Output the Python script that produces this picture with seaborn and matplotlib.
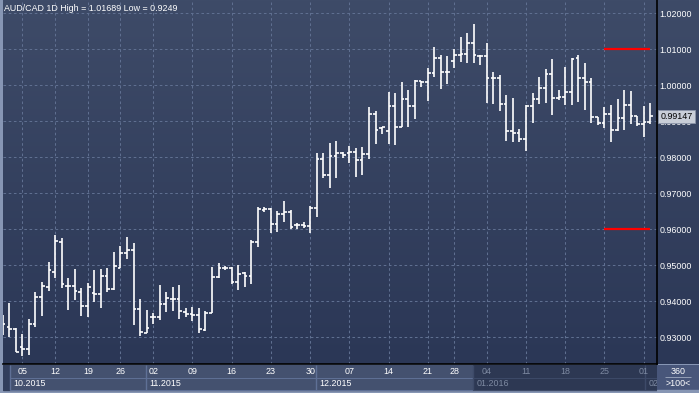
import numpy as np
import pandas as pd
import seaborn as sns
import matplotlib.pyplot as plt

# daily OHLC (bar 0 is clipped at the left edge)
bar_open = [0.93481, 0.93286, 0.93221, 0.92740, 0.92675, 0.93360, 0.94119, 0.94397, 0.94805, 0.95638,
            0.94416, 0.94416, 0.94268, 0.93869, 0.94221, 0.94194, 0.94697, 0.94342, 0.94933, 0.95333,
            0.95425, 0.93786, 0.93128, 0.93556, 0.93556, 0.93917, 0.94064, 0.94064, 0.93711, 0.93639,
            0.93619, 0.93211, 0.93667, 0.94667, 0.94933, 0.94933, 0.94544, 0.94778, 0.94703, 0.95639,
            0.96536, 0.96572, 0.96139, 0.96417, 0.96481, 0.96111, 0.96128, 0.96083, 0.96583, 0.97944,
            0.97500, 0.98036, 0.98111, 0.98111, 0.98139, 0.97925, 0.98083, 0.99194, 0.98806, 0.98739,
            0.99425, 0.98833, 0.99611, 0.99425, 1.00119, 1.00083, 1.00333, 1.00750, 1.00361, 1.00675,
            1.00842, 1.00861, 1.01167, 1.00822, 1.00814, 1.00189, 1.00194, 0.99481, 0.98731, 0.98667,
            0.98500, 0.99425, 0.99611, 0.99917, 1.00306, 0.99656, 0.99683, 0.99822, 1.00750, 1.00194,
            1.00083, 0.99111, 0.98944, 0.99194, 0.98758, 0.99083, 0.99453, 0.99147, 0.98925, 0.98972]
bar_high = [0.93619, 0.93944, 0.93249, 0.93092, 0.93499, 0.94268, 0.94527, 0.95101, 0.95842, 0.95749,
            0.94657, 0.94897, 0.94379, 0.94518, 0.94879, 0.94897, 0.94933, 0.95378, 0.95536, 0.95794,
            0.95628, 0.94064, 0.93758, 0.93683, 0.94453, 0.94267, 0.94389, 0.94453, 0.93806, 0.93850,
            0.93806, 0.93731, 0.94961, 0.95072, 0.94981, 0.94944, 0.95008, 0.94822, 0.95703, 0.96611,
            0.96628, 0.96583, 0.96508, 0.96794, 0.96536, 0.96183, 0.96194, 0.96647, 0.98111, 0.98128,
            0.98406, 0.98461, 0.98156, 0.98314, 0.98250, 0.98278, 0.99389, 0.99286, 0.98850, 0.99822,
            0.99794, 1.00092, 0.99869, 1.00147, 1.00119, 1.00472, 1.01056, 1.00842, 1.00814, 1.01000,
            1.01333, 1.01461, 1.01689, 1.00842, 1.01175, 1.00361, 1.00286, 0.99731, 0.99639, 0.98778,
            0.99453, 0.99794, 1.00222, 1.00444, 1.00722, 0.99869, 1.00500, 1.00750, 1.00842, 1.00611,
            1.00194, 0.99128, 0.99406, 0.99453, 0.99611, 0.99869, 0.99842, 0.99147, 0.99425, 0.99517]
bar_low = [0.93064, 0.93018, 0.92601, 0.92490, 0.92508, 0.93295, 0.93601, 0.94295, 0.94638, 0.94360,
           0.93758, 0.94036, 0.93601, 0.93555, 0.93971, 0.93823, 0.94267, 0.94314, 0.94917, 0.95175,
           0.93342, 0.93044, 0.93111, 0.93369, 0.93481, 0.93711, 0.93739, 0.93500, 0.93572, 0.93461,
           0.93128, 0.93183, 0.93667, 0.94639, 0.94869, 0.94481, 0.94314, 0.94389, 0.94481, 0.95500,
           0.96489, 0.95906, 0.95933, 0.96211, 0.96000, 0.96008, 0.96044, 0.95906, 0.96350, 0.97433,
           0.97156, 0.97433, 0.97972, 0.97850, 0.97444, 0.97508, 0.97961, 0.98369, 0.98647, 0.98369,
           0.98342, 0.98833, 0.98850, 0.99064, 0.99944, 0.99572, 1.00239, 0.99889, 1.00036, 1.00472,
           1.00639, 1.00628, 1.00611, 1.00564, 0.99517, 0.99481, 0.99294, 0.98461, 0.98433, 0.98433,
           0.98183, 0.98944, 0.99472, 0.99500, 0.99175, 0.99592, 0.99453, 0.99453, 0.99544, 0.99314,
           0.98961, 0.98897, 0.98806, 0.98433, 0.98739, 0.98758, 0.98925, 0.98869, 0.98572, 0.98925]
bar_close = [0.93361, 0.93221, 0.92601, 0.92675, 0.93360, 0.94119, 0.94434, 0.94860, 0.95684, 0.94481,
             0.94416, 0.94286, 0.93869, 0.94397, 0.94194, 0.94712, 0.94342, 0.94981, 0.95333, 0.95425,
             0.93786, 0.93156, 0.93258, 0.93556, 0.93917, 0.94083, 0.94064, 0.93731, 0.93639, 0.93619,
             0.93231, 0.93667, 0.94667, 0.94933, 0.94933, 0.94544, 0.94750, 0.94703, 0.95639, 0.96556,
             0.96572, 0.96139, 0.96417, 0.96481, 0.96072, 0.96128, 0.96100, 0.96583, 0.97944, 0.97500,
             0.98036, 0.98128, 0.98064, 0.98139, 0.97925, 0.98083, 0.99194, 0.98758, 0.98833, 0.99425,
             0.98833, 0.99611, 0.99425, 1.00119, 1.00083, 1.00333, 1.00750, 1.00361, 1.00361, 1.00842,
             1.00861, 1.01167, 1.00842, 1.00814, 1.00189, 1.00189, 0.99481, 0.98731, 0.98667, 0.98500,
             0.99425, 0.99611, 0.99917, 1.00306, 0.99639, 0.99683, 0.99822, 1.00731, 1.00194, 1.00083,
             0.99111, 0.98944, 0.99194, 0.98758, 0.99083, 0.99453, 0.99147, 0.98925, 0.98972, 0.99147]

day_pos = [3, 8, 13, 18, 23, 29, 35, 41, 47, 53, 59, 65, 69, 74, 80, 86, 92, 98]
day_labels = ['05', '12', '19', '26', '02', '09', '16', '23', '30',
              '07', '14', '21', '28', '04', '11', '18', '25', '01']
month_start = [1.1, 21.9, 47.9, 71.9, 98.2]
month_labels = ['10.2015', '11.2015', '12.2015', '01.2016', '02']
month_dim = [False, False, False, True, True]

y_ticks = [0.93, 0.94, 0.95, 0.96, 0.97, 0.98, 0.99, 1.00, 1.01, 1.02]
level_prices = [1.01, 0.96]
level_from, level_to = 92, 99

title = 'AUD/CAD 1D High = 1.01689 Low = 0.9249'

df = pd.DataFrame({'open': bar_open, 'high': bar_high, 'low': bar_low, 'close': bar_close})
df['x'] = np.arange(len(df))

sns.set_style('dark')
plt.rcParams['font.family'] = ['Liberation Sans', 'DejaVu Sans']
FS = 6.4

W, H = 699, 393
fig = plt.figure(figsize=(W / 100, H / 100), dpi=100)
fig.patch.set_facecolor('#8796b4')

# gradient background behind plot + right price scale
bg = fig.add_axes([3 / W, 29 / H, 696 / W, 364 / H])
grad = np.linspace(0, 1, 256).reshape(-1, 1)
top_c = np.array([62, 75, 104]) / 255
bot_c = np.array([43, 55, 86]) / 255
img = top_c[None, None, :] * (1 - grad[:, :, None]) + bot_c[None, None, :] * grad[:, :, None]
bg.imshow(img, aspect='auto', extent=[0, 1, 0, 1])
bg.set_axis_off()

ax = fig.add_axes([3 / W, 29 / H, 653.7 / W, 364 / H])
ax.patch.set_alpha(0)
xlim = (0.04, 99.99)
ax.set_xlim(xlim)
ax.set_ylim(0.92258, 1.02369)

ax.set_xticks(day_pos)
ax.set_xticklabels([])
ax.set_yticks(y_ticks)
ax.set_yticklabels([f'{v:.5f}' for v in y_ticks])
ax.yaxis.tick_right()
ax.tick_params(axis='both', length=0)
ax.tick_params(axis='y', pad=2, labelsize=FS, labelcolor='white')
ax.grid(True, color='#5f6f90', linewidth=0.75, linestyle=(0, (2.5, 2.5)))
for s in ['left', 'top']:
    ax.spines[s].set_visible(False)
for s in ['right', 'bottom']:
    ax.spines[s].set_color('black')
    ax.spines[s].set_linewidth(1.2)

tw = 0.42
lw = 1.2
ax.vlines(df['x'], df['low'], df['high'], color='white', linewidth=lw, zorder=3)
ax.hlines(df['open'], df['x'] - tw, df['x'], color='white', linewidth=lw, zorder=3)
ax.hlines(df['close'], df['x'], df['x'] + tw, color='white', linewidth=lw, zorder=3)

ax.hlines(level_prices, level_from, level_to, color='#ff0000', linewidth=1.6, zorder=4)

ax.text(0.001, 0.989, title, transform=ax.transAxes, ha='left', va='top',
        fontsize=FS, color='white')

last = bar_close[-1]
ax.annotate(f'{last:.5f}', xy=(1.0, last), xycoords=('axes fraction', 'data'),
            xytext=(2.6, -0.3), textcoords='offset points', ha='left', va='center',
            fontsize=FS, color='black', annotation_clip=False, zorder=10,
            bbox=dict(boxstyle='square,pad=0.22', facecolor='#c9ced8', edgecolor='#8d96aa', linewidth=0.6))

# bottom date strip
axb = fig.add_axes([3 / W, 0, 653.7 / W, 28 / H])
axb.set_xlim(xlim)
axb.set_ylim(0, 28)
axb.set_facecolor('#323e5c')
axb.set_axis_off()
axb.axhspan(0, 3, color='#8796b4', zorder=0)
axb.axhspan(3, 28, xmin=0, xmax=1, color='#323e5c', zorder=0)
ends = month_start[1:] + [xlim[1]]
for start, end, lab, dim in zip(month_start, ends, month_labels, month_dim):
    fill = '#2d3853' if dim else '#44516f'
    edge = '#3d4a68' if dim else '#5f7096'
    txt = '#7e8aa2' if dim else 'white'
    axb.fill_between([start, end], 3, 28, color=fill, zorder=1, linewidth=0)
    axb.fill_between([start, end], 3.5, 15.5, facecolor=fill, edgecolor=edge, linewidth=0.7, zorder=2)
    axb.vlines(start, 3, 28, color=edge, linewidth=1.0, zorder=3)
    axb.text(start + 0.55, 9.3, lab, fontsize=FS, color=txt, ha='left', va='center', zorder=4)
for p, lab in zip(day_pos, day_labels):
    dim = any(d and p >= s for s, d in zip(month_start, month_dim))
    axb.text(p, 21.2, lab, fontsize=FS, color='#7e8aa2' if dim else 'white',
             ha='center', va='center', zorder=4)

# bottom-right scale box
axr = fig.add_axes([657 / W, 0, 42 / W, 28 / H])
axr.set_xlim(0, 1)
axr.set_ylim(0, 28)
axr.set_axis_off()
axr.axhspan(3, 28, color='#48567a')
axr.axhspan(0, 3, color='#8796b4')
axr.text(0.5, 21.5, '360', fontsize=FS, color='white', ha='center', va='center')
axr.hlines(16, 0.2, 0.8, color='#a0aac0', linewidth=0.6)
axr.text(0.5, 9.5, '>100<', fontsize=FS, color='white', ha='center', va='center')

fig.savefig('out.png', dpi=100, facecolor=fig.get_facecolor())
